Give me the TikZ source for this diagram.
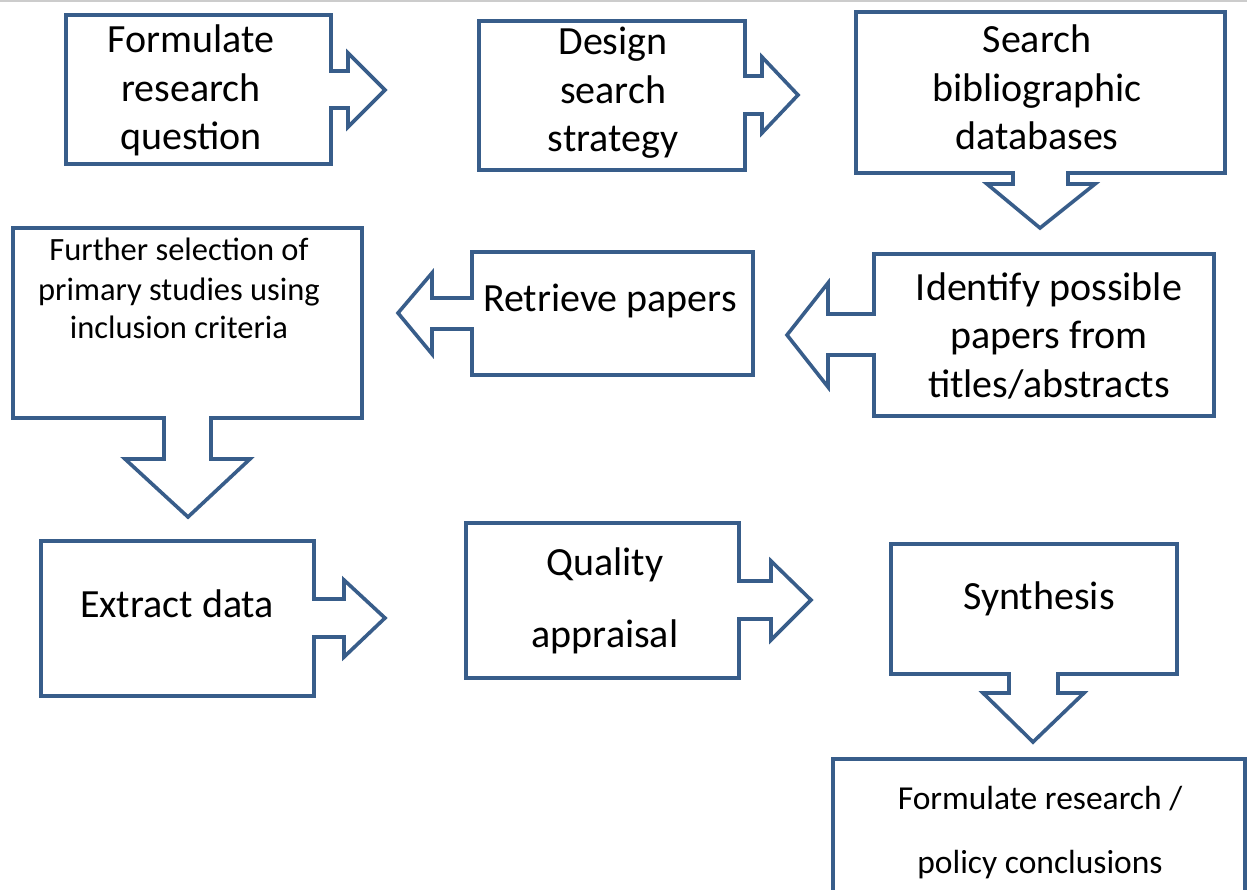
\documentclass[tikz,border=0pt]{standalone}
\usepackage{fontspec}
\setmainfont{Carlito}
\definecolor{outline}{RGB}{56,93,138}
\begin{document}
\begin{tikzpicture}[x=1pt,y=-1pt,
  callout/.style={draw=outline,line width=3.6pt,line join=miter,fill=white},
  big/.style={font=\fontsize{40}{48.5}\selectfont,inner sep=0pt,align=center,anchor=base},
  small/.style={font=\fontsize{32.5}{39}\selectfont,inner sep=0pt,align=center,anchor=base}]
\useasboundingbox (0,0) rectangle (1247,890);
\draw[black!20,line width=1.5pt] (0,0.8) -- (1247,0.8);

% row 1 (multi-line labels are placed by the baseline of their last line)
\draw[callout] (66,15) -- (331,15) -- (331,71) -- (348,71) -- (348,53) -- (385,90)
  -- (348,127) -- (348,108) -- (331,108) -- (331,164) -- (66,164) -- cycle;
\node[big] (formulate) at (191,150) {Formulate\\research\\question};

\draw[callout] (479,21) -- (745,21) -- (745,76) -- (762,76) -- (762,57) -- (798,95)
  -- (762,133) -- (762,114) -- (745,114) -- (745,170) -- (479,170) -- cycle;
\node[big] (design) at (613,152) {Design\\search\\strategy};

\draw[callout] (856,12) -- (1225,12) -- (1225,173) -- (1068,173) -- (1068,184) -- (1095,184)
  -- (1040,228) -- (987,184) -- (1013,184) -- (1013,173) -- (856,173) -- cycle;
\node[big] (search) at (1037,150) {Search\\bibliographic\\databases};

% row 2
\draw[callout] (874,254) -- (1214,254) -- (1214,416) -- (874,416) -- (874,355) -- (828,355)
  -- (828,387) -- (787,335) -- (828,283) -- (828,314) -- (874,314) -- cycle;
\node[big] (identify) at (1049,397) {Identify possible\\papers from\\titles/abstracts};

\draw[callout] (472,252) -- (753,252) -- (753,375) -- (472,375) -- (472,329) -- (432,329)
  -- (432,354) -- (398,313) -- (432,273) -- (432,298) -- (472,298) -- cycle;
\node[big] (retrieve) at (610,312) {Retrieve papers};

\draw[callout] (13,228) -- (362,228) -- (362,418) -- (211,418) -- (211,459) -- (250,459)
  -- (188,517) -- (125,459) -- (164,459) -- (164,418) -- (13,418) -- cycle;
\node[small] (further) at (179,339) {Further selection of\\primary studies using\\inclusion criteria};

% row 3
\draw[callout] (41,541) -- (314,541) -- (314,599) -- (344,599) -- (344,580) -- (385,618)
  -- (344,657) -- (344,637) -- (314,637) -- (314,696) -- (41,696) -- cycle;
\node[big] (extract) at (177,617) {Extract data};

\draw[callout] (466,523) -- (739,523) -- (739,581) -- (771,581) -- (771,561) -- (811,600)
  -- (771,640) -- (771,619) -- (739,619) -- (739,678) -- (466,678) -- cycle;
\node[big,font=\fontsize{40}{72}\selectfont] (quality) at (605,647) {Quality\\appraisal};

\draw[callout] (891,544) -- (1177,544) -- (1177,674) -- (1058,674) -- (1058,693) -- (1084,693)
  -- (1033,742) -- (983,693) -- (1009,693) -- (1009,674) -- (891,674) -- cycle;
\node[big] (synthesis) at (1039,609) {Synthesis};

% final box, running off the page
\draw[callout] (833,759) rectangle (1245,905);
\node[small,font=\fontsize{33.5}{64}\selectfont] (conclude) at (1040,873) {Formulate research /\\policy conclusions};
\end{tikzpicture}
\end{document}
